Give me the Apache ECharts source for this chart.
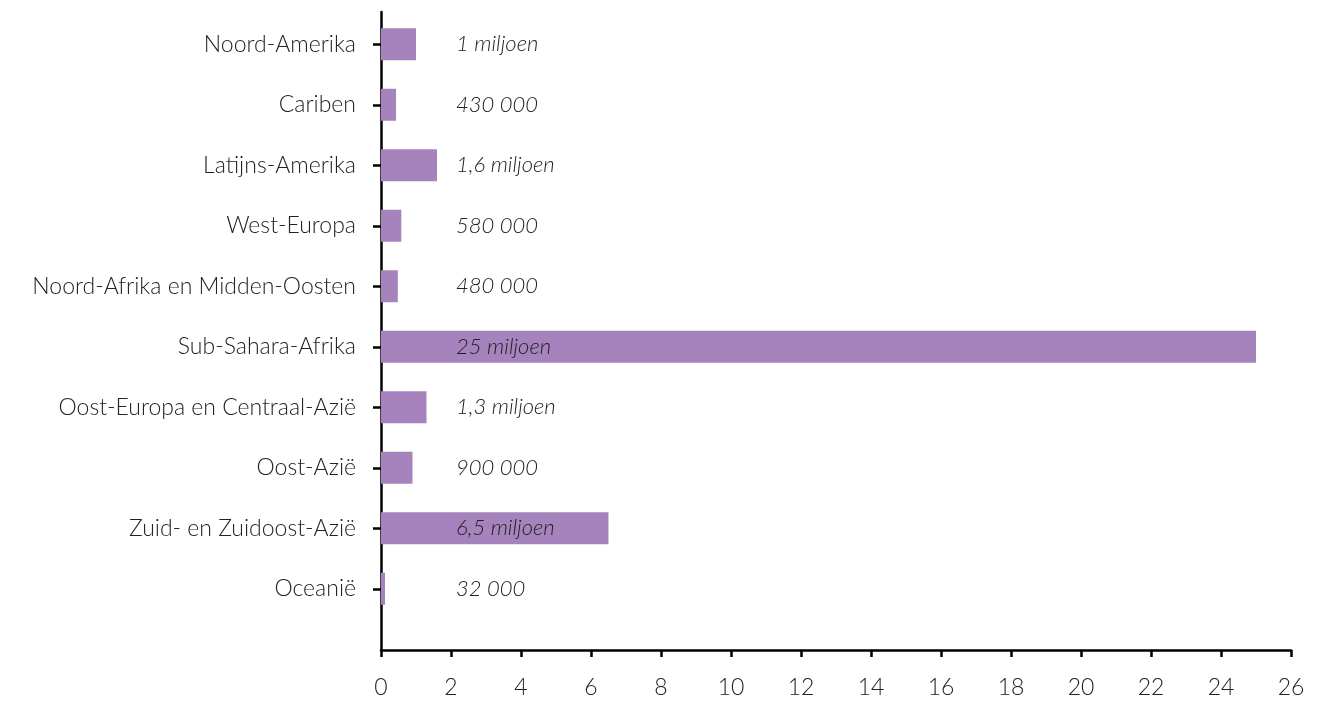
<!DOCTYPE html>
<html>
<head>
<meta charset="utf-8">
<script src="https://cdn.jsdelivr.net/npm/echarts@6/dist/echarts.min.js"></script>
<style>
  html, body { margin: 0; padding: 0; background: #fff; }
  #main { width: 1332px; height: 703px; }
</style>
</head>
<body>
<div id="main"></div>
<script>
// regio's en aantal (miljoen)
var regions = ['Noord-Amerika', 'Cariben', 'Latijns-Amerika', 'West-Europa',
  'Noord-Afrika en Midden-Oosten', 'Sub-Sahara-Afrika', 'Oost-Europa en Centraal-Azië',
  'Oost-Azië', 'Zuid- en Zuidoost-Azië', 'Oceanië'];
var values = [1, 0.43, 1.6, 0.58, 0.48, 25, 1.3, 0.9, 6.5, 0.032];
var valueLabels = ['1 miljoen', '430 000', '1,6 miljoen', '580 000', '480 000',
  '25 miljoen', '1,3 miljoen', '900 000', '6,5 miljoen', '32 000'];

var chart = echarts.init(document.getElementById('main'));

var lineStyle = { color: '#000', width: 2.5 };

var option = {
  animation: false,
  grid: [
    // balken
    { left: 381, right: 41, top: 14, bottom: 84 },
    // assen (lopen door tot onder)
    { left: 381, right: 41, top: 12, bottom: 53 }
  ],
  xAxis: [{
    gridIndex: 0,
    type: 'value',
    min: 0,
    max: 26,
    interval: 2,
    show: false
  }, {
    gridIndex: 1,
    type: 'value',
    min: 0,
    max: 26,
    interval: 2,
    axisLine: { show: true, lineStyle: lineStyle },
    axisTick: { show: true, length: 7, lineStyle: lineStyle },
    axisLabel: { color: '#222', fontSize: 23, fontFamily: 'Lato', fontWeight: 300, margin: 26 },
    splitLine: { show: false }
  }],
  yAxis: [{
    gridIndex: 0,
    type: 'category',
    inverse: true,
    data: regions,
    axisLine: { show: false },
    axisTick: { show: true, alignWithLabel: true, length: 8, lineStyle: lineStyle },
    axisLabel: { color: '#222', fontSize: 23, fontFamily: 'Lato', fontWeight: 300, margin: 25 }
  }, {
    gridIndex: 1,
    type: 'value',
    axisLine: { show: true, lineStyle: lineStyle },
    axisTick: { show: false },
    axisLabel: { show: false },
    splitLine: { show: false }
  }],
  series: [{
    type: 'bar',
    xAxisIndex: 0,
    yAxisIndex: 0,
    data: values,
    barWidth: 32,
    barMinHeight: 4,
    itemStyle: { color: '#a783bd' },
    label: {
      show: true,
      position: [75, '50%'],
      verticalAlign: 'middle',
      color: '#222',
      fontSize: 22,
      fontStyle: 'italic',
      fontFamily: 'Lato',
      fontWeight: 300,
      formatter: function (p) { return valueLabels[p.dataIndex]; }
    }
  }]
};

chart.setOption(option);
</script>
</body>
</html>
